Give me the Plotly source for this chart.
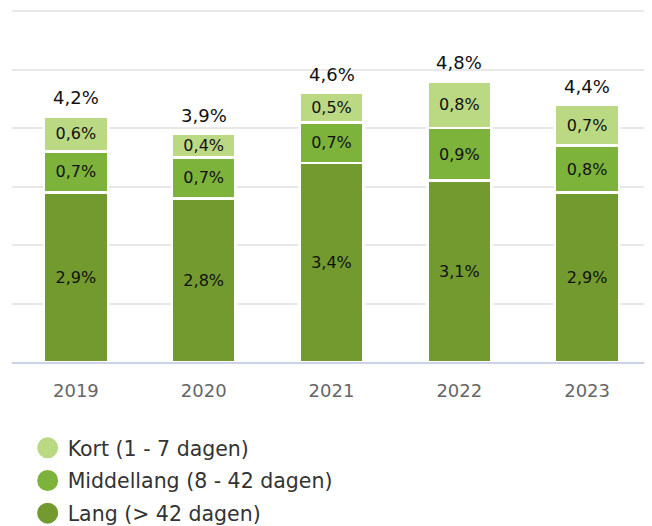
import plotly.graph_objects as go

years = ["2019", "2020", "2021", "2022", "2023"]
lang = [2.9, 2.8, 3.4, 3.1, 2.9]
middellang = [0.7, 0.7, 0.7, 0.9, 0.8]
kort = [0.6, 0.4, 0.5, 0.8, 0.7]
totaal = [4.2, 3.9, 4.6, 4.8, 4.4]

series = [
    ("Lang (> 42 dagen)", lang, "#739a2f"),
    ("Middellang (8 - 42 dagen)", middellang, "#7db33b"),
    ("Kort (1 - 7 dagen)", kort, "#bbd883"),
]

FONT = "DejaVu Sans"


def pct(v):
    return f"{v:.1f}".replace(".", ",") + "%"


fig = go.Figure()

for name, vals, color in series:
    fig.add_trace(go.Bar(
        x=years, y=vals, name=name,
        marker=dict(color=color, line=dict(color="white", width=2.5)),
        text=[pct(v) for v in vals],
        textposition="inside", insidetextanchor="middle",
        constraintext="none",
        textfont=dict(family=FONT, size=16, color="#111"),
        width=0.5, showlegend=False, hoverinfo="skip",
    ))

# totals above the bars (x given as category index)
for i, t in enumerate(totaal):
    fig.add_annotation(
        x=i, y=t, text=pct(t), showarrow=False,
        yanchor="bottom", yshift=6,
        font=dict(family=FONT, size=18, color="#111"),
    )

# legend entries with round markers (Kort on top)
for i, (name, vals, color) in enumerate(reversed(series)):
    fig.add_trace(go.Scatter(
        x=[None], y=[None], mode="markers", name=name,
        marker=dict(symbol="circle", size=16, color=color,
                    line=dict(color=color, width=5)),
        legendgroup=f"g{i}", legendrank=i,
    ))

# the page puts the figure 8px in from the top-left corner
fig.update_layout(
    width=644, height=518,
    barmode="stack",
    plot_bgcolor="white", paper_bgcolor="white",
    margin=dict(l=4, r=1, t=2, b=164, autoexpand=False),
    font=dict(family=FONT, color="#333"),
    legend=dict(
        orientation="v", x=0.0245, xanchor="left", y=-0.1875, yanchor="top",
        font=dict(family=FONT, size=20.5, color="#333"),
        tracegroupgap=3, itemsizing="trace",
    ),
)
fig.update_xaxes(
    range=[-0.5, 4.5],
    showline=True, linecolor="#cdd3e6", linewidth=2,
    ticks="outside", ticklen=11, tickcolor="rgba(0,0,0,0)",
    tickfont=dict(family=FONT, size=18, color="#666"),
)
fig.update_yaxes(
    range=[0, 6.02], dtick=1, showticklabels=False,
    gridcolor="#e8e8e8", gridwidth=2, zeroline=False,
)

fig.write_html("out.html")
